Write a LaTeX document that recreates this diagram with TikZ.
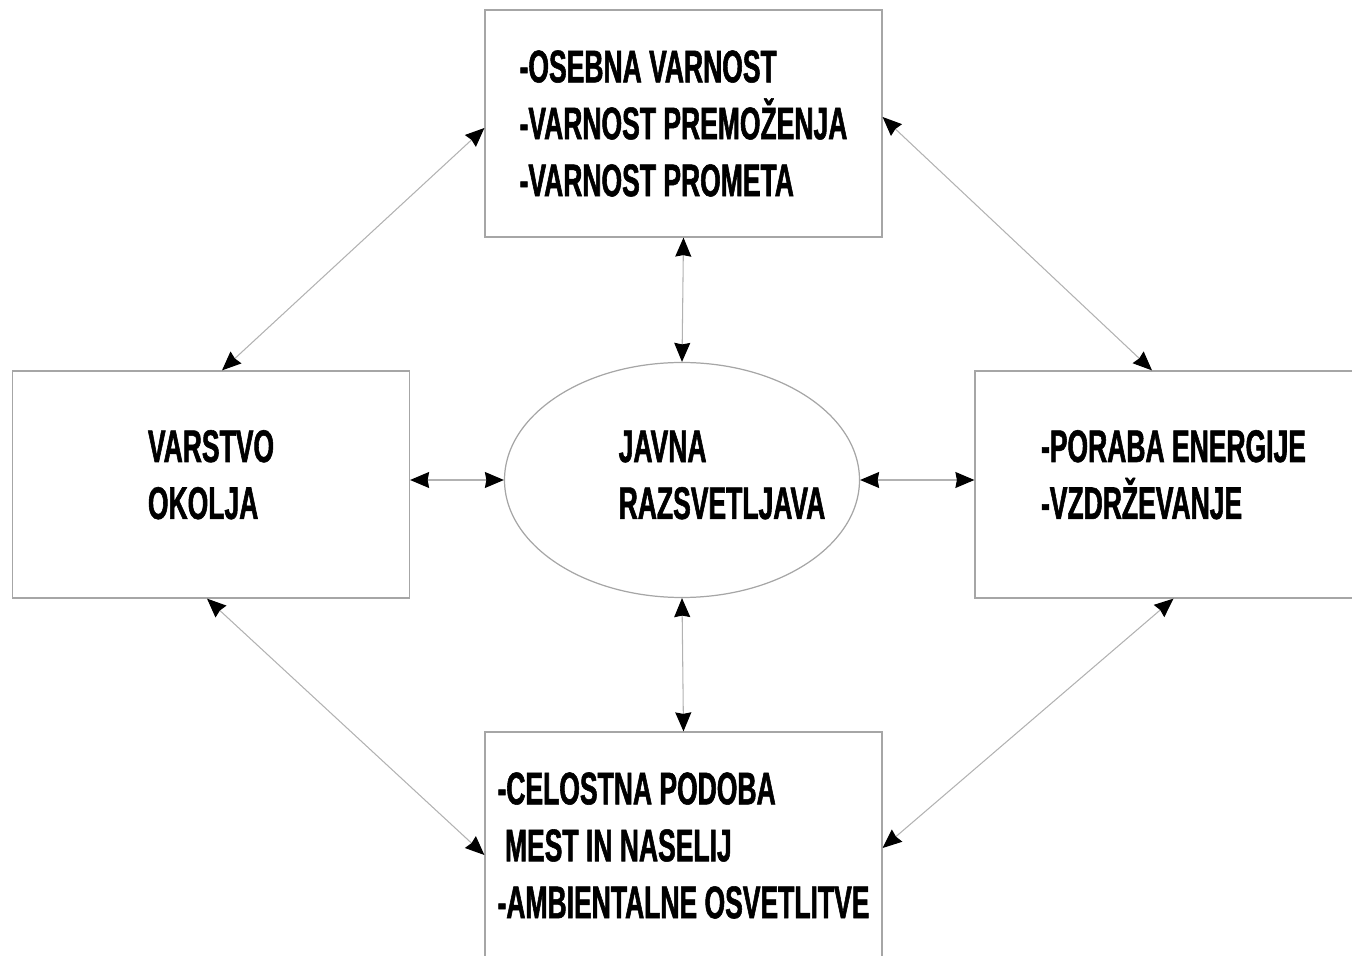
\documentclass[tikz,border=0pt]{standalone}
\usepackage{fontspec}
\setmainfont{Liberation Sans}[FakeStretch=0.58, BoldFeatures={FakeBold=1.2}]
\usetikzlibrary{shapes.geometric,arrows.meta}

\tikzset{
  box/.style={draw=gray!70, line width=0.7pt, minimum width=7.94cm, minimum height=4.54cm,
              align=left, font=\fontsize{26}{32.4}\selectfont\bfseries},
  hub/.style={draw=gray!70, line width=0.7pt, ellipse, minimum width=7.1cm, minimum height=4.7cm},
  link/.style={draw=gray!60, line width=0.6pt, {Stealth[length=0.38cm,width=0.32cm,inset=0.03cm,black]}-{Stealth[length=0.38cm,width=0.32cm,inset=0.03cm,black]}}
}

\begin{document}
\begin{tikzpicture}
    \clip (0,0) rectangle (27.04,-19.12);
    % boxes
    \node[box] (safety) at (13.67,-2.47) {-OSEBNA VARNOST\\-VARNOST PREMOŽENJA\\-VARNOST PROMETA};
    \node[box] (environment) at (4.22,-9.69) {VARSTVO\\OKOLJA\rule[-0.4cm]{0pt}{0pt}};
    \node[box] (energy) at (23.47,-9.69) {-PORABA ENERGIJE\\-VZDRŽEVANJE\rule[-0.4cm]{0pt}{0pt}};
    \node[box] (image) at (13.67,-16.91) {-CELOSTNA PODOBA\\\hspace{0.15cm}MEST IN NASELIJ\\-AMBIENTALNE OSVETLITVE};
    % centre
    \node[hub] (lighting) at (13.64,-9.6) {};
    \node[align=left, font=\fontsize{26}{32.4}\selectfont\bfseries] (lightingtext) at (14.44,-9.5) {JAVNA\\RAZSVETLJAVA};
    % connectors
    \draw[link] (environment.east |- lighting.west) -- (lighting.west);
    \draw[link] (lighting.east) -- (energy.west |- lighting.east);
    \draw[link] (safety.south) -- (lighting.north);
    \draw[link] (lighting.south) -- (image.north);
    \draw[link] ([yshift=-0.09cm]safety.west) -- ([xshift=0.22cm]environment.north);
    \draw[link] ([yshift=0.13cm]safety.east) -- ([xshift=-0.43cm]energy.north);
    \draw[link] ([xshift=-0.08cm]environment.south) -- ([yshift=-0.19cm]image.west);
    \draw[link] (energy.south) -- ([yshift=-0.05cm]image.east);
\end{tikzpicture}
\end{document}
